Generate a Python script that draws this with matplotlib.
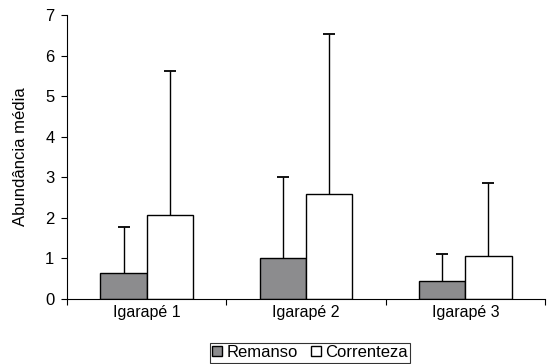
import matplotlib
matplotlib.use("Agg")
import matplotlib.pyplot as plt
import numpy as np

plt.rcParams['font.family'] = ['Liberation Sans', 'DejaVu Sans']

categories = ["Igarapé 1", "Igarapé 2", "Igarapé 3"]
remanso = [0.65, 1.0, 0.45]
remanso_err = [1.12, 2.0, 0.67]
correnteza = [2.07, 2.6, 1.05]
correnteza_err = [3.55, 3.92, 1.82]
yticks = [0, 1, 2, 3, 4, 5, 6, 7]

fig = plt.figure(figsize=(5.49, 3.64), dpi=100)
ax = fig.add_axes([67/549, 1-299/364, (545-67)/549, (299-15)/364])

x = np.arange(len(categories)) + 0.5
w = 0.29
ekw = dict(ecolor='black', elinewidth=1, capsize=4, capthick=1.3)
b1 = ax.bar(x - w/2, remanso, w, color='#8c8c8e', edgecolor='black', linewidth=1,
            yerr=[np.zeros(3), remanso_err], error_kw=ekw, label='Remanso', zorder=2)
b2 = ax.bar(x + w/2, correnteza, w, color='white', edgecolor='black', linewidth=1,
            yerr=[np.zeros(3), correnteza_err], error_kw=ekw, label='Correnteza', zorder=2)
for b in (b1, b2):
    caps = b.errorbar.lines[1]
    caps[0].set_visible(False)

ax.set_xlim(0, 3)
ax.set_ylim(0, 7)
ax.set_yticks(yticks)
ax.set_xticks([0, 1, 2, 3])
ax.set_xticklabels([])
ax.set_xticks(x, minor=True)
ax.set_xticklabels(categories, minor=True)
ax.tick_params(axis='x', which='minor', length=0, labelsize=11.5, pad=4)
ax.tick_params(axis='x', which='major', length=4, direction='out')
ax.tick_params(axis='y', length=4, direction='out', labelsize=12, pad=5)
ax.spines['top'].set_visible(False)
ax.spines['right'].set_visible(False)
ax.set_ylabel('Abundância média', fontsize=12, labelpad=12)

leg = fig.legend(loc='lower center', bbox_to_anchor=(310/549, 0.004), ncol=2, frameon=True,
                 fancybox=False, edgecolor='black', fontsize=12, handlelength=0.6,
                 handleheight=0.6, handletextpad=0.25, columnspacing=0.8, borderpad=0.15,
                 borderaxespad=0.0)
leg.get_frame().set_linewidth(0.8)

fig.savefig('out.png', dpi=100)
